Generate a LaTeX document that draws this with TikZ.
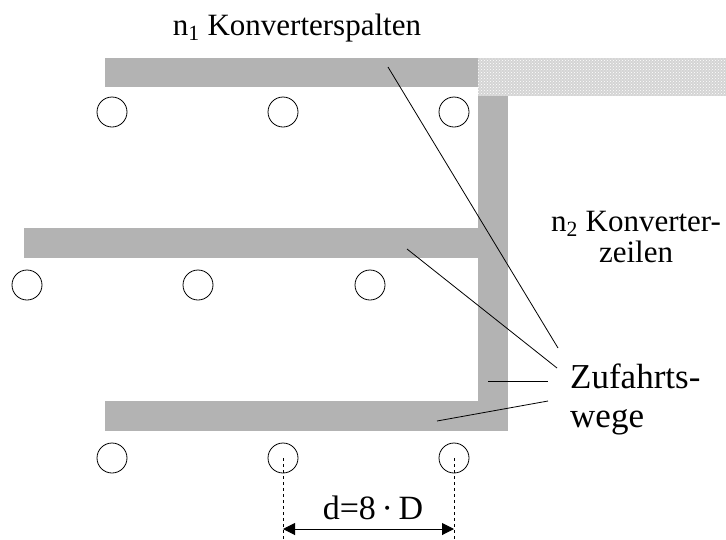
\documentclass[tikz,border=0pt]{standalone}
\usepackage{fontspec}
\setmainfont{Liberation Serif}
\usetikzlibrary{arrows.meta,patterns}
\definecolor{road}{RGB}{179,179,179}
\definecolor{hatch}{RGB}{212,212,212}
\tikzset{
  well/.style={circle,draw,line width=0.8pt,minimum size=30pt,inner sep=0pt},
  roadbar/.style={fill=road,draw=none},
  leader/.style={draw,line width=0.8pt},
  lbl/.style={font=\fontsize{31}{31}\selectfont,inner sep=0pt},
  biglbl/.style={font=\fontsize{35}{39}\selectfont,inner sep=0pt},
  dimline/.style={dashed,line width=0.8pt},
  dimarrow/.style={line width=1pt,{Triangle[length=12pt,width=12pt]}-{Triangle[length=12pt,width=12pt]}}
}
\begin{document}
\begin{tikzpicture}[x=1pt,y=-1pt]
\useasboundingbox (0,0) rectangle (726,539);
% roads
\fill[roadbar] (105,58) rectangle (478,87);
\fill[hatch] (478,58) rectangle (726,96);
\fill[pattern=crosshatch dots,pattern color=white] (478,58) rectangle (726,96);
\fill[roadbar] (478,96) rectangle (508,431);
\fill[roadbar] (24,228) rectangle (478,258);
\fill[roadbar] (105,401) rectangle (508,431);
% converters
\node[well] (t1) at (112,112) {};
\node[well] (t2) at (283,112) {};
\node[well] (t3) at (454,112) {};
\node[well] (m1) at (27,285) {};
\node[well] (m2) at (198,285) {};
\node[well] (m3) at (370,285) {};
\node[well] (b1) at (112,458) {};
\node[well] (b2) at (283,458) {};
\node[well] (b3) at (454,458) {};
% labels
\node[lbl,anchor=base] (spalten) at (297,35) {n\textsubscript{1} Konverterspalten};
\node[lbl,anchor=base,align=center] (zeilen) at (636,262) {n\textsubscript{2} Konverter-\\zeilen};
\node[biglbl,anchor=base west,align=left] (wege) at (570,427) {Zufahrts-\\wege};
% leaders
\coordinate (s1) at (388,67);
\coordinate (s2) at (407,249);
\coordinate (s3) at (488,381);
\coordinate (s4) at (437,421);
\coordinate (z1) at (558,348);
\coordinate (z2) at (557,368);
\coordinate (z3) at (548,381);
\coordinate (z4) at (548,401);
\draw[leader] (s1) -- (z1);
\draw[leader] (s2) -- (z2);
\draw[leader] (s3) -- (z3);
\draw[leader] (s4) -- (z4);
% dimension
\coordinate (e2) at (283,539);
\coordinate (e3) at (454,539);
\coordinate (a2) at (283,529);
\coordinate (a3) at (454,529);
\draw[dimline] (b2.center) -- (e2);
\draw[dimline] (b3.center) -- (e3);
\draw[dimarrow] (a2) -- (a3);
\node[lbl,anchor=base,font=\fontsize{34}{34}\selectfont] (dlabel) at (373,519) {d=8\,·\,D};
\end{tikzpicture}
\end{document}
